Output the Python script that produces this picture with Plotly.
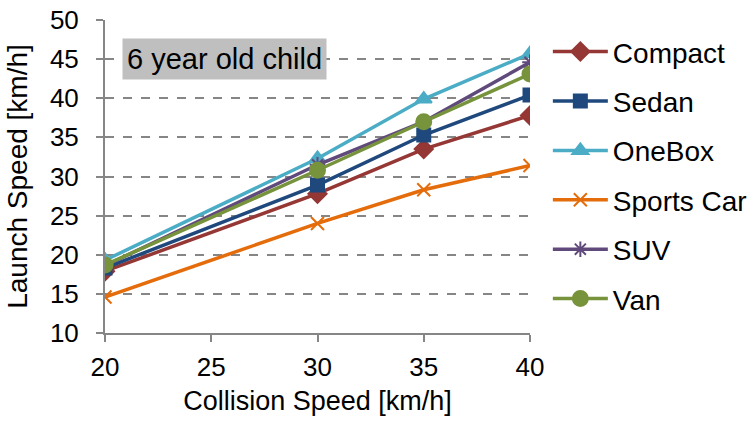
import plotly.graph_objects as go

collision_speed = [20, 30, 35, 40]

compact = [17.9, 27.8, 33.5, 37.8]
sedan = [18.3, 28.9, 35.3, 40.4]
onebox = [19.3, 32.3, 39.9, 45.7]
sports_car = [14.6, 24.0, 28.3, 31.4]
suv = [18.6, 31.5, 37.0, 44.6]
van = [18.7, 30.8, 37.0, 43.1]

series = [
    ("Compact", compact, "#953735", "diamond", 14),
    ("Sedan", sedan, "#1F497D", "square", 13),
    ("OneBox", onebox, "#4BACC6", "triangle-up", 14),
    ("Sports Car", sports_car, "#E46C0A", "x-thin-open", 13),
    ("SUV", suv, "#604A7B", "asterisk-open", 13),
    ("Van", van, "#77933C", "circle", 15),
]

fig = go.Figure()
for i, (name, vals, color, symbol, size) in enumerate(series):
    fig.add_trace(go.Scatter(
        x=collision_speed, y=vals, name=name, mode="lines+markers",
        line=dict(color=color, width=3.5),
        marker=dict(symbol=symbol, size=size, color=color,
                    line=dict(color=color, width=2)),
        legendgroup=str(i),
    ))

font = "Liberation Sans, Arial, sans-serif"

fig.update_layout(
    width=755, height=423,
    margin=dict(l=105, r=225, t=20, b=90, autoexpand=False),
    paper_bgcolor="white", plot_bgcolor="white",
    font=dict(family=font, size=26, color="black"),
    showlegend=True,
    legend=dict(
        x=1.042, y=0.978, xanchor="left", yanchor="top",
        font=dict(size=28), itemwidth=55,
        traceorder="grouped", tracegroupgap=10,
        bgcolor="rgba(0,0,0,0)",
    ),
    xaxis=dict(
        range=[20, 40], tickvals=[20, 25, 30, 35, 40],
        showgrid=False, zeroline=False, automargin=False,
        showline=True, linecolor="#868686", linewidth=2,
        ticks="outside", ticklen=7, tickcolor="#868686", tickwidth=2,
        tickfont=dict(size=26), ticklabelstandoff=3,
        title=dict(text="Collision Speed [km/h]", font=dict(size=27), standoff=10),
    ),
    yaxis=dict(
        range=[10, 50], tickvals=list(range(10, 55, 5)),
        showgrid=True, gridcolor="#868686", gridwidth=2, griddash="dash",
        zeroline=False, automargin=False,
        showline=True, linecolor="#868686", linewidth=2,
        ticks="outside", ticklen=7, tickcolor="#868686", tickwidth=2,
        tickfont=dict(size=26), ticklabelstandoff=12,
        title=dict(text="Launch Speed [km/h]", font=dict(size=28), standoff=14),
    ),
    annotations=[dict(
        text="6 year old child", xref="paper", yref="paper",
        x=0.04, y=0.9425, xanchor="left", yanchor="top",
        showarrow=False, bgcolor="#BFBFBF", borderpad=4,
        font=dict(size=29, color="black"),
    )],
)

fig.write_html("out.html")
